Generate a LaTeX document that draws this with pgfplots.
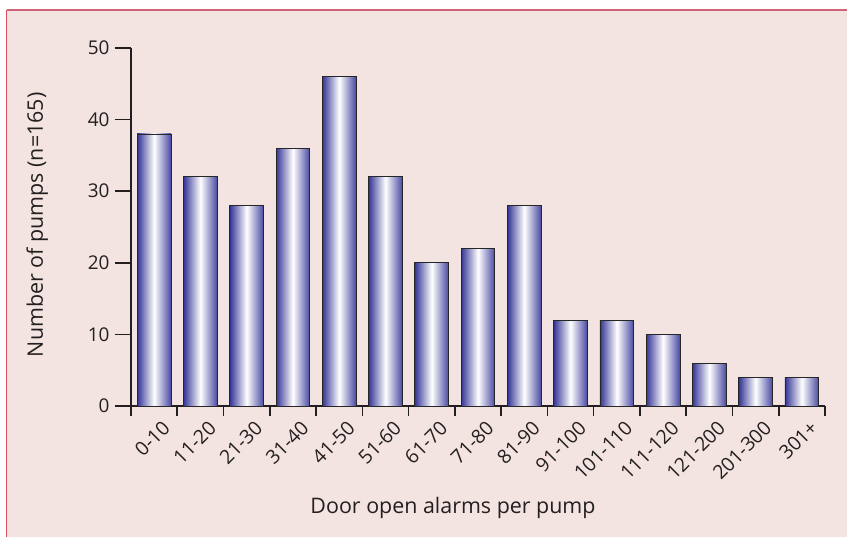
\documentclass[border=0pt]{standalone}
\usepackage{pgfplots}
\pgfplotsset{compat=1.18}
\usepackage{fontspec}
\setmainfont{Open Sans}
\definecolor{bgpink}{RGB}{244,228,225}
\definecolor{framered}{RGB}{208,100,120}
\definecolor{bardark}{RGB}{52,52,150}
\definecolor{bardark2}{RGB}{72,72,162}
\definecolor{axisdark}{RGB}{35,31,32}
\pgfplotsset{
    pumpbar/.style={ybar, bar width=0.73, bar shift=0pt, draw=black!85, line width=0.8bp,
        left color=bardark, right color=bardark2, middle color=white},
}
\begin{document}
\begin{tikzpicture}
\useasboundingbox (-131bp,-131bp) rectangle (716bp,406bp);
\fill[white] (-131bp,-131bp) rectangle (716bp,406bp);
\fill[bgpink] (-123.5bp,-131bp) rectangle (716bp,395bp);
\draw[framered, line width=2bp] (-124bp,395.5bp) -- (716bp,395.5bp);
\draw[framered!80!red, line width=1bp] (-124bp,-131bp) -- (-124bp,396bp);
\begin{axis}[
    at={(0,0)}, anchor=south west,
    scale only axis,
    width=694bp, height=358bp,
    xmin=-0.5, xmax=14.5,
    ymin=0, ymax=50,
    axis x line*=bottom,
    axis y line*=left,
    axis line style={axisdark, line width=1.6bp},
    every tick/.style={axisdark, line width=1.6bp},
    tick align=outside,
    xtick={0,...,14},
    xticklabels={0-10,11-20,21-30,31-40,41-50,51-60,61-70,71-80,81-90,91-100,101-110,111-120,121-200,201-300,301+},
    major x tick style={draw=none},
    minor xtick={-0.5,0.5,...,14.5},
    minor tick length=10bp,
    ytick={0,10,...,50},
    major tick length=16bp,
    xticklabel style={rotate=45, anchor=north east, font=\fontsize{19.5}{21}\selectfont, color=axisdark, inner sep=1bp, yshift=-2bp, xshift=8bp},
    yticklabel style={font=\fontsize{19}{21}\selectfont, color=axisdark, xshift=-2bp},
    /pgf/number format/assume math mode=true,
    xlabel={Door open alarms per pump},
    ylabel={Number of pumps (n=165)},
    label style={font=\fontsize{21.5}{24}\selectfont, color=axisdark},
    xlabel style={at={(axis description cs:0.464,-0.284)}, anchor=center},
    ylabel style={at={(axis description cs:-0.135,0.506)}, anchor=center},
]
\addplot[pumpbar] coordinates {(0,38)};
\addplot[pumpbar] coordinates {(1,32)};
\addplot[pumpbar] coordinates {(2,28)};
\addplot[pumpbar] coordinates {(3,36)};
\addplot[pumpbar] coordinates {(4,46)};
\addplot[pumpbar] coordinates {(5,32)};
\addplot[pumpbar] coordinates {(6,20)};
\addplot[pumpbar] coordinates {(7,22)};
\addplot[pumpbar] coordinates {(8,28)};
\addplot[pumpbar] coordinates {(9,12)};
\addplot[pumpbar] coordinates {(10,12)};
\addplot[pumpbar] coordinates {(11,10)};
\addplot[pumpbar] coordinates {(12,6)};
\addplot[pumpbar] coordinates {(13,4)};
\addplot[pumpbar] coordinates {(14,4)};
\end{axis}
\end{tikzpicture}
\end{document}
